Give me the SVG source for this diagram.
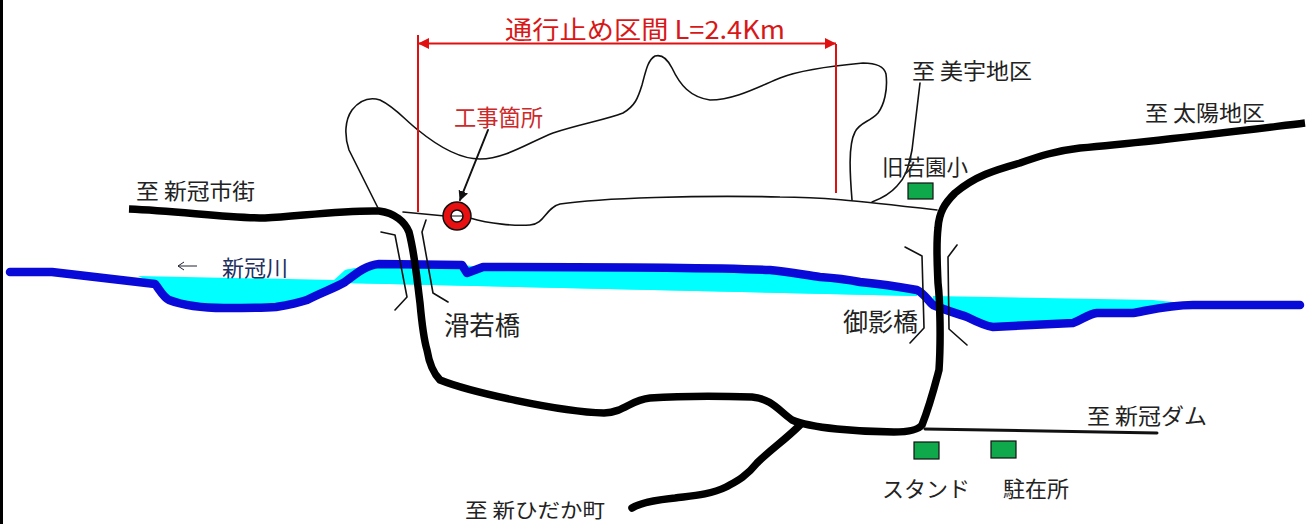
<svg xmlns="http://www.w3.org/2000/svg" width="1306" height="524" viewBox="0 0 1306 524">
<defs>
<marker id="ah" viewBox="0 0 10 10" refX="9" refY="5" markerWidth="10" markerHeight="10" markerUnits="userSpaceOnUse" orient="auto-start-reverse"><path d="M0 0L10 5L0 10Z" fill="#111"/></marker>
<marker id="rh" viewBox="0 0 10 10" refX="10" refY="5" markerWidth="11" markerHeight="11" markerUnits="userSpaceOnUse" orient="auto-start-reverse"><path d="M0 0L10 5L0 10Z" fill="#e01010"/></marker>
</defs>
<style>
text{font-family:"Noto Sans CJK JP","Noto Sans",sans-serif;fill:#222;font-size:22px}
.thin{fill:none;stroke:#111;stroke-width:1.6;stroke-linejoin:round;stroke-linecap:round}
.road{fill:none;stroke:#000;stroke-width:7.500;stroke-linejoin:round}
.river{fill:none;stroke:#0a0ad8;stroke-width:8.500;stroke-linejoin:round;stroke-linecap:round}
.red{fill:none;stroke:#e01010;stroke-width:2}
.bld{fill:#0fa84a;stroke:#111;stroke-width:1.200}
</style>
<rect width="1306" height="524" fill="#fff"/>
<rect x="0" y="0" width="3" height="524" fill="#000"/>
<g id="water"><path d="M138 276L334 280L345 270L379 264L917 290L917 296L345 283L307 300L276 307L224 308L169 300L155 284Z" fill="#00ffff"/><path d="M345 270L379 264L462 265L483 267L770 270L917 290L917 296L345 283Z" fill="#00ffff"/><path d="M933 296L1153 300L1193 304L1097 313L1073 323L993 327L967 317L933 305Z" fill="#00ffff"/></g>
<g id="connectors">
<path id="river" class="river" d="M10 272L52 272L155 284C160 290 163 297 169 300C185 306 205 308 224 308C245 308 262 308 276 307C288 305 298 303 307 300C320 293 335 288 345 282C358 272 367 265 379 264L462 265L467 273L483 267C530 267 700 267 770 270C790 272 805 275 820 277C835 278 850 280 860 282C880 284 900 287 917 290C925 294 928 301 933 305C945 310 955 313 967 317C975 321 985 326 993 327L1073 323C1082 320 1088 314 1097 313L1133 313C1150 310 1170 305 1193 305L1300 305"/>
<path id="road-west" class="road" d="M129 209C180 211 225 218 265 218C300 216 345 210 379 211C395 213 405 222 409 232C415 255 417 280 420 303C422 325 424 340 427 350C429 362 432 372 440 380C470 392 560 412 604 413C625 412 630 400 650 398C680 396 720 396 752 397C772 399 778 410 792 420C810 428 860 432 894 432C908 432 918 430 922 425C930 405 935 385 939 370C941 340 940 300 938 283C937 260 936 245 938 228C939 212 945 203 955 193C975 176 995 170 1020 163C1040 156 1055 151 1080 148C1150 142 1230 132 1305 123"/>
<path id="road-hidaka" class="road" stroke-linecap="round" d="M800 425C785 440 770 450 757 463C745 478 735 482 726 487C710 495 690 496 675 498C655 500 640 503 632 508"/>
<path id="road-dam" class="thin" style="stroke-width:3" d="M925 429L1157 433"/>
<path id="road-thin" class="thin" d="M403 212L445 216M470 218C490 224 515 226 530 225C545 224 545 208 560 204C600 198 700 195 780 197C820 197 850 200 937 210"/>
<path id="outline" class="thin" d="M378 208L349 150C344 135 345 120 352 110C360 100 370 97 380 100C395 107 405 120 418 130C440 148 460 159 480 159C505 159 530 142 553 133C580 124 605 120 623 113C635 106 638 98 642 85C646 70 648 60 655 56C662 54 668 60 672 68C680 85 690 97 710 100C735 100 760 86 780 78C800 70 830 66 863 63C875 63 884 66 886 74C888 90 884 105 878 113C870 122 860 122 855 132C848 145 850 175 852 200"/>
<path id="miu" class="thin" d="M920 83L912 150C908 170 905 178 897 186C890 194 880 199 872 202"/>
<path id="bridge-namewaka" class="thin" d="M381 232L395 235L407 297L395 310M426 220L422 232L433 293L448 302"/>
<path id="bridge-mikage" class="thin" d="M905 247L922 256L924 328L910 343M957 245L948 257L949 329L967 345"/>
<path id="range" class="red" d="M418 35V212M836 44V193"/>
<path id="range-arrow" class="red" marker-start="url(#rh)" marker-end="url(#rh)" d="M418 43.500H836"/>
<path id="site-arrow" class="thin" style="stroke-width:2" marker-end="url(#ah)" d="M488 130L460 200"/>
<path id="flow" d="M197 266H178M184 262L178 266L184 270" fill="none" stroke="#223" stroke-width="1"/>
</g>
<g id="site"><circle cx="457" cy="216" r="14" fill="#e81010" stroke="#111" stroke-width="1.500"/><circle cx="457" cy="216" r="6" fill="#fff" stroke="#111" stroke-width="1.500"/><path d="M451 216H463" stroke="#111" stroke-width="1"/></g>
<g id="school"><rect class="bld" x="908" y="183" width="25" height="16"/><text x="882" y="175" textLength="86" lengthAdjust="spacingAndGlyphs">旧若園小</text></g>
<g id="stand"><rect class="bld" x="914" y="442" width="25" height="17"/><text x="882" y="497" textLength="88" lengthAdjust="spacingAndGlyphs">スタンド</text></g>
<g id="police"><rect class="bld" x="991" y="441" width="25" height="17"/><text x="1003" y="497" textLength="66" lengthAdjust="spacingAndGlyphs">駐在所</text></g>
<g id="labels">
<text x="505" y="39" textLength="280" lengthAdjust="spacingAndGlyphs" style="fill:#d81818;font-size:25px">通行止め区間 L=2.4Km</text>
<text x="454" y="126" textLength="89" lengthAdjust="spacingAndGlyphs" style="fill:#cc2a2a;font-size:23px">工事箇所</text>
<text x="136" y="199" textLength="119" lengthAdjust="spacingAndGlyphs">至 新冠市街</text>
<text x="912" y="79" textLength="120" lengthAdjust="spacingAndGlyphs">至 美宇地区</text>
<text x="1145" y="121" textLength="120" lengthAdjust="spacingAndGlyphs">至 太陽地区</text>
<text x="222" y="276" textLength="66" lengthAdjust="spacingAndGlyphs" style="fill:#223060">新冠川</text>
<text x="444" y="335" textLength="76" lengthAdjust="spacingAndGlyphs" style="font-size:26px">滑若橋</text>
<text x="843" y="331" textLength="75" lengthAdjust="spacingAndGlyphs" style="font-size:25px">御影橋</text>
<text x="1087" y="424" textLength="120" lengthAdjust="spacingAndGlyphs">至 新冠ダム</text>
<text x="465" y="518" textLength="140" lengthAdjust="spacingAndGlyphs" style="font-size:20px">至 新ひだか町</text>
</g>
</svg>
